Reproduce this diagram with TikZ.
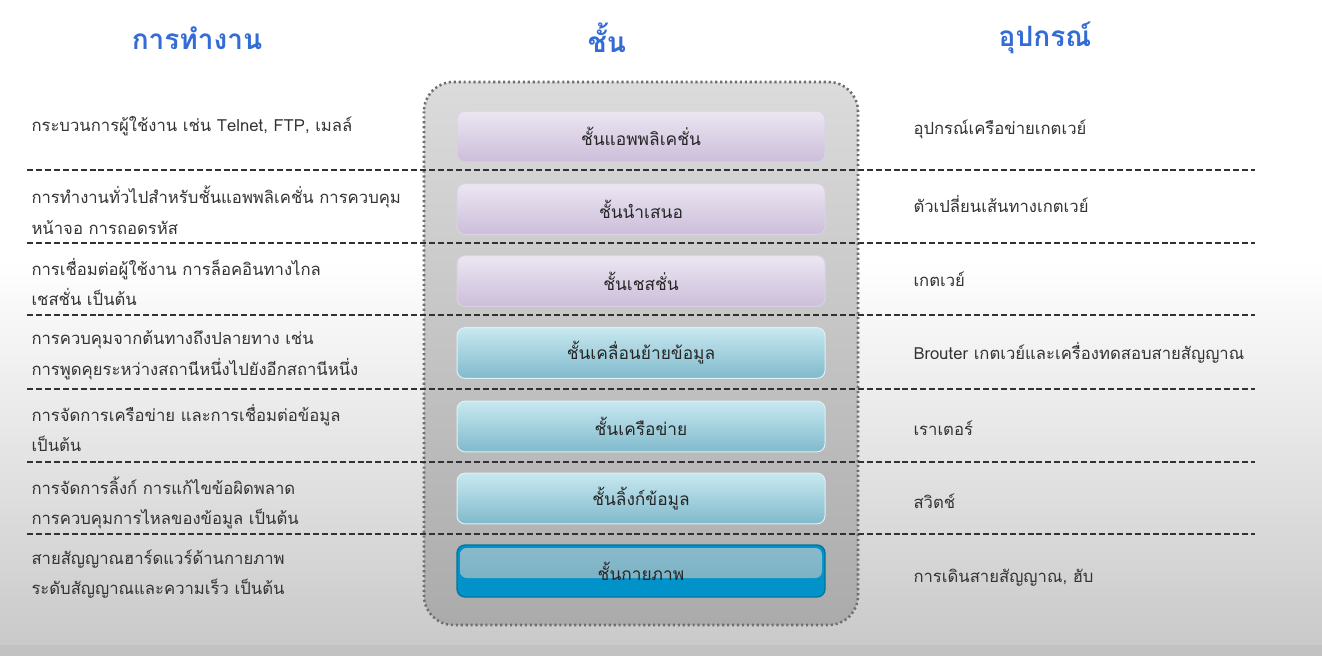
\documentclass[tikz,border=0pt]{standalone}
\usepackage{fontspec}
\setmainfont[Script=Thai]{Loma}
\usetikzlibrary{positioning}

\definecolor{headblue}{RGB}{52,108,214}
\definecolor{sepgray}{RGB}{50,50,50}
\definecolor{dotgray}{RGB}{110,110,110}
\definecolor{purpletop}{RGB}{236,230,242}
\definecolor{purplebot}{RGB}{204,190,218}
\definecolor{bluetop}{RGB}{200,232,240}
\definecolor{bluebot}{RGB}{128,186,204}
\definecolor{deepblue}{RGB}{0,146,200}
\definecolor{paleblue}{RGB}{124,178,198}

\tikzset{every picture/.style={line width=0.75pt}}
\tikzset{
  headtext/.style={font=\fontsize{21}{24}\selectfont\bfseries, text=headblue},
  functext/.style={anchor=west, inner sep=0.75pt, font=\fontsize{12.5}{23}\selectfont, align=left, text=black!80},
  devtext/.style={anchor=west, inner sep=0.75pt, font=\fontsize{12.5}{23}\selectfont, align=left, text=black!80},
  purplebox/.style={rounded corners=6pt, draw=purplebot!70!white, top color=purpletop, bottom color=purplebot, minimum width=276pt, minimum height=38pt, font=\fontsize{13}{15}\selectfont, text=black!85},
  bluebox/.style={rounded corners=6pt, draw=bluetop!60!white, top color=bluetop, bottom color=bluebot, minimum width=276pt, minimum height=38pt, font=\fontsize{13}{15}\selectfont, text=black!85},
  sepline/.style={draw=sepgray, dash pattern=on 4.5pt off 2.2pt, line width=0.8pt}
}

\begin{document}
\begin{tikzpicture}[x=0.75pt,y=0.75pt,yscale=-1,xscale=1]
\useasboundingbox (0,0) rectangle (1322,656);

%Shape: Background
\fill [white] (0,0) rectangle (1322,260);
\shade [top color=white, middle color=white!93!black, bottom color=black!21] (0,259) rectangle (1322,645);
\fill [black!24] (0,645) rectangle (1322,656);

%Shape: Rounded Rectangle (layer stack)
\shade [rounded corners=22pt, top color=black!14, bottom color=black!33] (424,82) rectangle (858,625);
\draw [rounded corners=22pt, draw=dotgray, line width=1.9pt, dash pattern=on 1.6pt off 2.1pt] (424,82) rectangle (858,625);

% Header Nodes
\node (hfunc) [headtext] at (197,38) {การทำงาน};
\node (hlayer) [headtext] at (607,38) {ชั้น};
\node (hdev) [headtext] at (1045,38) {อุปกรณ์};

% Layer Nodes
\node (lay7) [purplebox] at (641,136.5) {ชั้นแอพพลิเคชั่น};
\node (lay6) [purplebox] at (641,209) {ชั้นนำเสนอ};
\node (lay5) [purplebox] at (641,281) {ชั้นเชสชั่น};
\node (lay4) [bluebox] at (641,353) {ชั้นเคลื่อนย้ายข้อมูล};
\node (lay3) [bluebox] at (641,426.5) {ชั้นเครือข่าย};
\node (lay2) [bluebox] at (641,498.5) {ชั้นลิ้งก์ข้อมูล};
%Shape: Physical layer box (two tone)
\fill [rounded corners=6pt, deepblue] (457,545) rectangle (825,597);
\draw [rounded corners=6pt, draw=deepblue!80!black, line width=1pt] (457,545) rectangle (825,597);
\shade [rounded corners=5pt, top color=paleblue!90!white, bottom color=paleblue] (460,548) rectangle (822,578);
\node (lay1) [inner sep=0pt, font=\fontsize{13}{15}\selectfont, text=black!85] at (641,571) {ชั้นกายภาพ};

%Straight Lines (row separators)
\foreach \y in {170,243,315,389,462,534}
  \draw [sepline] (27,\y) -- (1255,\y);

% Text Node (function column)
\node (fn7) [functext] at (30,126) {กระบวนการผู้ใช้งาน เช่น Telnet, FTP, เมลล์};
\node (fn6) [functext] at (30,210) {การทำงานทั่วไปสำหรับชั้นแอพพลิเคชั่น การควบคุม\\หน้าจอ การถอดรหัส};
\node (fn5) [functext] at (30,282) {การเชื่อมต่อผู้ใช้งาน การล็อคอินทางไกล\\เชสชั่น เป็นต้น};
\node (fn4) [functext] at (30,355) {การควบคุมจากต้นทางถึงปลายทาง เช่น\\การพูดคุยระหว่างสถานีหนึ่งไปยังอีกสถานีหนึ่ง};
\node (fn3) [functext] at (30,428) {การจัดการเครือข่าย และการเชื่อมต่อข้อมูล\\เป็นต้น};
\node (fn2) [functext] at (30,503) {การจัดการลิ้งก์ การแก้ไขข้อผิดพลาด\\การควบคุมการไหลของข้อมูล เป็นต้น};
\node (fn1) [functext] at (30,574) {สายสัญญาณฮาร์ดแวร์ด้านกายภาพ\\ระดับสัญญาณและความเร็ว เป็นต้น};

% Text Node (device column)
\node (dv7) [devtext] at (912,129) {อุปกรณ์เครือข่ายเกตเวย์};
\node (dv6) [devtext] at (912,204) {ตัวเปลี่ยนเส้นทางเกตเวย์};
\node (dv5) [devtext] at (912,279) {เกตเวย์};
\node (dv4) [devtext] at (912,353) {Brouter เกตเวย์และเครื่องทดสอบสายสัญญาณ};
\node (dv3) [devtext] at (912,428) {เราเตอร์};
\node (dv2) [devtext] at (912,501) {สวิตช์};
\node (dv1) [devtext] at (912,578) {การเดินสายสัญญาณ, ฮับ};

\end{tikzpicture}
\end{document}
